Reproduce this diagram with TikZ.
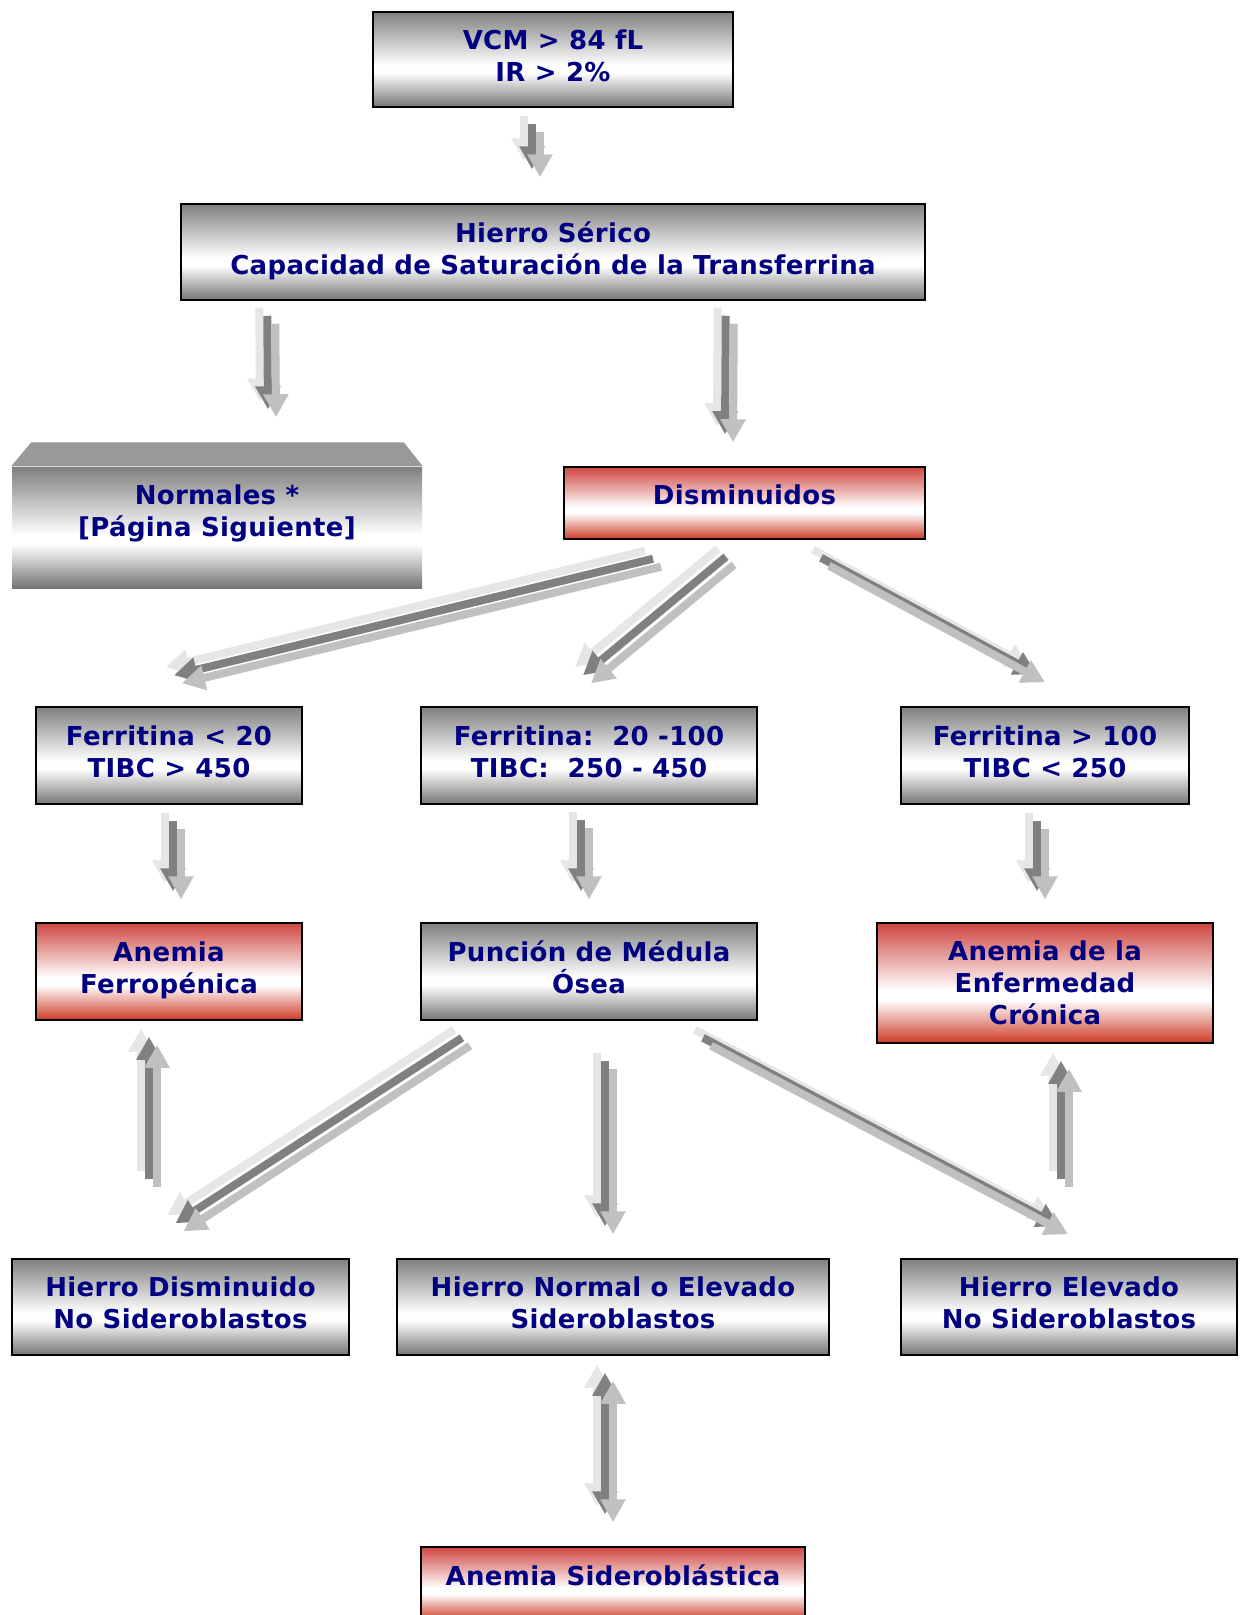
\documentclass[tikz,border=0pt]{standalone}
\usepackage{fontspec}
\setmainfont{DejaVu Sans}[LetterSpace=1.3]
\usetikzlibrary{arrows.meta,calc}

\definecolor{navy}{RGB}{0,0,128}
\definecolor{gtop}{RGB}{128,128,128}
\definecolor{gbot}{RGB}{116,116,116}
\definecolor{rtop}{RGB}{206,70,64}
\definecolor{rbot}{RGB}{205,58,38}
\definecolor{flA}{RGB}{230,230,230}
\definecolor{flB}{RGB}{128,128,128}
\definecolor{flC}{RGB}{192,192,192}
\definecolor{bevel}{RGB}{153,153,153}

% metallic grey and red bands, white just below the middle
\pgfdeclareverticalshading{greybox}{100bp}{color(0bp)=(gbot); color(25bp)=(gbot); color(43bp)=(white); color(47bp)=(white); color(75bp)=(gtop); color(100bp)=(gtop)}
\pgfdeclareverticalshading{redbox}{100bp}{color(0bp)=(rbot); color(25bp)=(rbot); color(43bp)=(white); color(47bp)=(white); color(75bp)=(rtop); color(100bp)=(rtop)}

\tikzset{
  box/.style={shade, draw=black, line width=1.5pt, align=center, text=navy,
    font=\bfseries\fontsize{26}{32}\selectfont, inner sep=0pt, text depth=8pt},
  greyfill/.style={box, shading=greybox},
  redfill/.style={box, shading=redbox},
  lift/.style={text depth=#1},
  flecha/.style={line width=8pt, arrows={-Triangle[length=23pt,width=24pt]}},
  ambos/.style={arrows={Triangle[length=23pt,width=24pt]-Triangle[length=23pt,width=24pt]}},
}

% three stacked copies of an arrow: light, dark, medium grey
\newcommand\tripleflecha[5][]{%
  \foreach \fc/\fo in {flA/-8,flB/0,flC/8}{%
    \draw[flecha,color=\fc,#1] ($(#2)+(#3)+(\fo,\fo)$) -- ($(#4)+(#5)+(\fo,\fo)$);}}

\begin{document}
\begin{tikzpicture}[x=1pt,y=-1pt]
\path[use as bounding box, fill=white] (0,0) rectangle (1244,1615);
\clip (0,0) rectangle (1244,1615);

% boxes
\node[greyfill, minimum width=360pt, minimum height=95pt] (b1) at (553,59.5) {VCM > 84 fL\\IR > 2\%};
\node[greyfill, minimum width=744pt, minimum height=96pt] (b2) at (553,252) {Hierro Sérico\\Capacidad de Saturación de la Transferrina};
\node[box, draw=none, shading=greybox, minimum width=410pt, minimum height=121pt, lift=34pt] (norm) at (217,527.5) {Normales *\\{[}Página Siguiente]};
\fill[bevel] (norm.north west) -- ($(norm.north west)+(20,-24)$) -- ($(norm.north east)+(-19,-24)$) -- (norm.north east) -- cycle;
\node[redfill, minimum width=361pt, minimum height=72pt, lift=16pt] (dis) at (744.5,503) {Disminuidos};
\node[greyfill, minimum width=266pt, minimum height=97pt] (f1) at (169,755.5) {Ferritina < 20\\TIBC > 450};
\node[greyfill, minimum width=336pt, minimum height=97pt] (f2) at (589,755.5) {Ferritina:\ \ 20 -100\\TIBC:\ \ 250 - 450};
\node[greyfill, minimum width=288pt, minimum height=97pt] (f3) at (1045,755.5) {Ferritina > 100\\TIBC < 250};
\node[redfill, minimum width=266pt, minimum height=97pt] (a1) at (169,971.5) {Anemia\\Ferropénica};
\node[greyfill, minimum width=336pt, minimum height=97pt] (pun) at (589,971.5) {Punción de Médula\\Ósea};
\node[redfill, minimum width=336pt, minimum height=120pt, lift=0pt] (cro) at (1045,983) {Anemia de la\\Enfermedad\\Crónica};
\node[greyfill, minimum width=337pt, minimum height=96pt] (h1) at (180.5,1307) {Hierro Disminuido\\No Sideroblastos};
\node[greyfill, minimum width=432pt, minimum height=96pt] (h2) at (613,1307) {Hierro Normal o Elevado\\Sideroblastos};
\node[greyfill, minimum width=336pt, minimum height=96pt] (h3) at (1069,1307) {Hierro Elevado\\No Sideroblastos};
\node[redfill, minimum width=384pt, minimum height=73pt, lift=16pt] (sid) at (613,1583.5) {Anemia Sideroblástica};

% connectors
\tripleflecha{b1.south}{-21,16}{b2.north}{-21,-34}
\tripleflecha{b2.south west}{87,15}{norm.north}{51,-57}
\tripleflecha{b2.south east}{-200,15}{dis.north}{-19.5,-32}
\tripleflecha{dis.south}{-91.5,19}{f1.north}{5,-31}
\tripleflecha{dis.south}{-18.5,17}{f2.north}{-6,-31}
\tripleflecha{dis.south}{76.5,18}{f3.north}{-8,-32}
\tripleflecha{f1.south}{4,16}{a1.north}{4,-31}
\tripleflecha{f2.south}{-8,15}{pun.north}{-8,-31}
\tripleflecha{f3.south}{-8,16}{cro.north}{-8,-31}
\tripleflecha{pun.south}{-127,17}{h1.north}{-5,-35}
\tripleflecha{h1.north}{-31.5,-79}{a1.south}{-20,16}
\tripleflecha{pun.south}{16,40}{h2.north}{-8,-32}
\tripleflecha{pun.south}{114,17}{h3.north}{-9,-32}
\tripleflecha{h3.north}{-8,-79}{cro.south}{16,17}
\tripleflecha[ambos]{h2.south}{-8,17}{sid.north}{-8,-32}
\end{tikzpicture}
\end{document}
